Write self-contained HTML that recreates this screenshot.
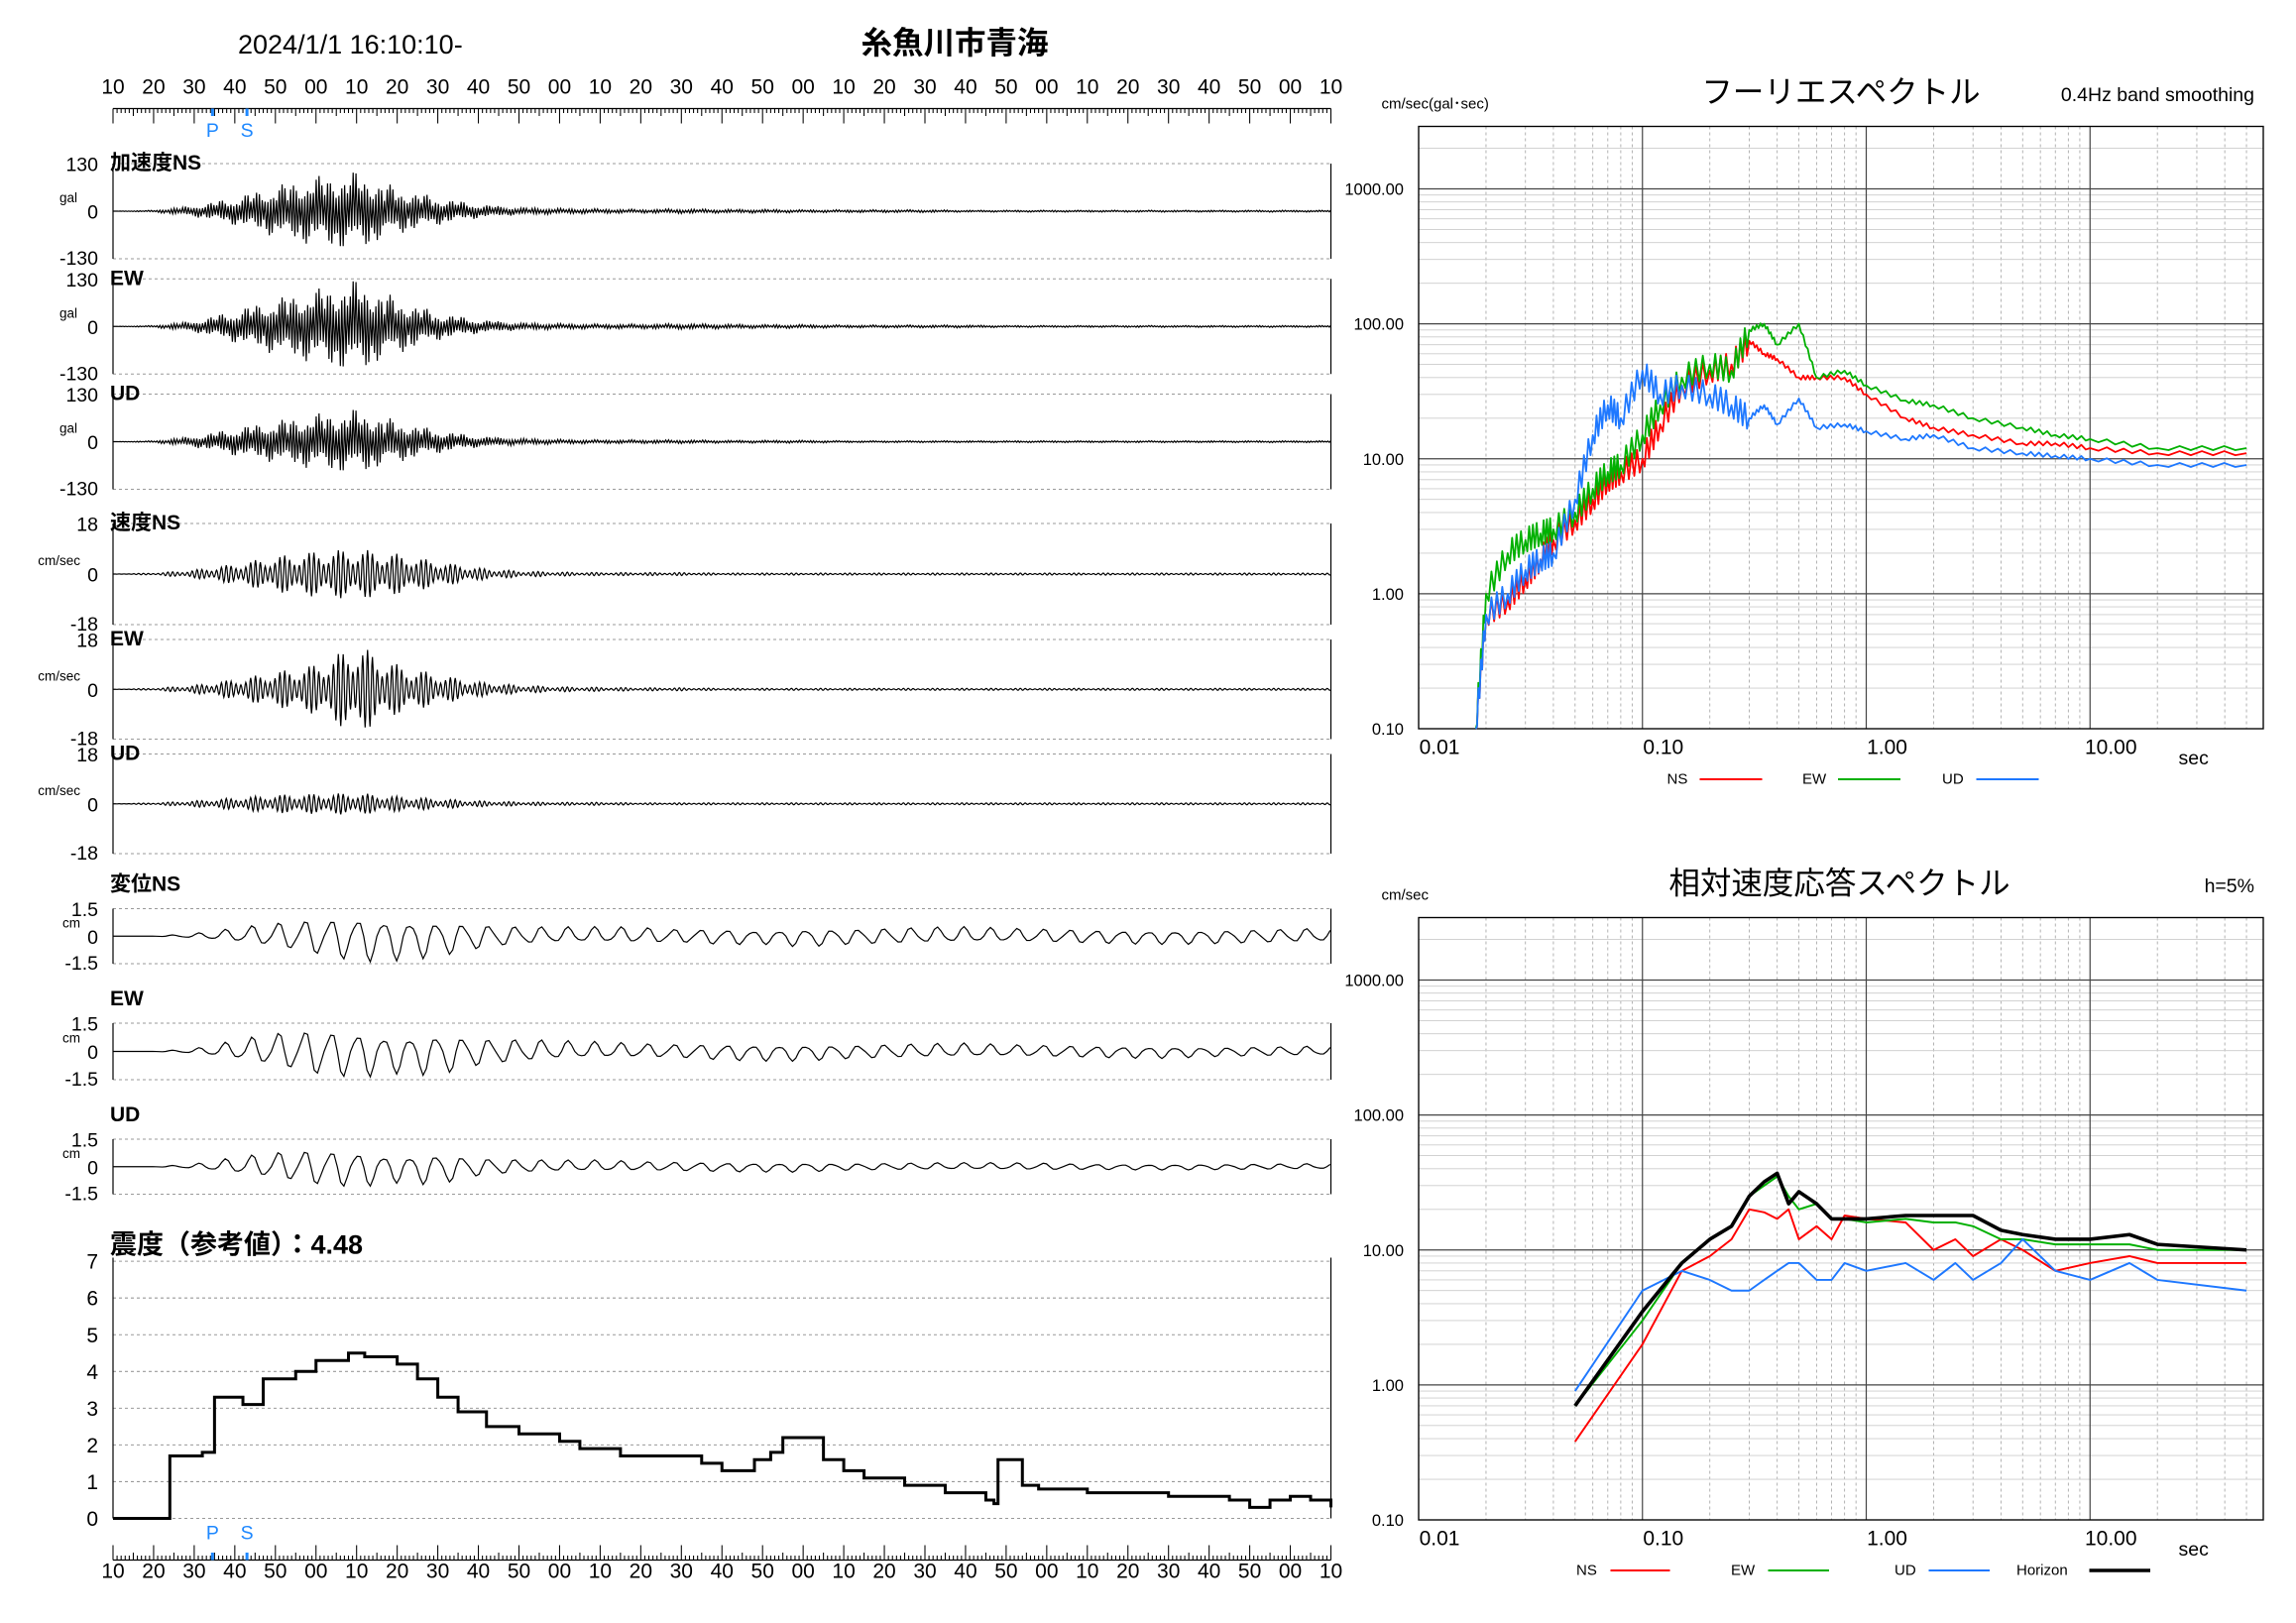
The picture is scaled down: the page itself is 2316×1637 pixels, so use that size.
<!DOCTYPE html>
<html><head><meta charset="utf-8"><style>
html,body{margin:0;padding:0;background:#fff;}
svg{display:block;font-family:"Liberation Sans","Noto Sans CJK JP",sans-serif;}
</style></head><body>
<svg id="chart" xmlns="http://www.w3.org/2000/svg" width="2316" height="1637" viewBox="0 0 1544 1091.33">
<rect x="0" y="0" width="1544" height="1092" fill="#fff"/>
</svg>
<script>
// ---------------- data ----------------
const timeLabels = ["10","20","30","40","50","00","10","20","30","40","50","00","10","20","30","40","50","00","10","20","30","40","50","00","10","20","30","40","50","00","10"];
const pTime = 24.5, sTime = 33;
const accNS = [0,0.02,0.12,0.3,0.55,0.75,0.85,0.5,0.3,0.15,0.08,0.06,0.05,0.04,0.05,0.04,0.04,0.03,0.03,0.03,0.03,0.02,0.02,0.02,0.02,0.02,0.02,0.02,0.02,0.02];
const accEW = [0,0.02,0.12,0.35,0.6,0.8,1.0,0.6,0.3,0.15,0.08,0.06,0.05,0.05,0.06,0.05,0.04,0.04,0.03,0.03,0.03,0.03,0.02,0.02,0.02,0.02,0.02,0.02,0.02,0.02];
const accUD = [0,0.02,0.12,0.3,0.45,0.6,0.7,0.45,0.25,0.12,0.07,0.05,0.04,0.04,0.04,0.03,0.03,0.03,0.02,0.02,0.02,0.02,0.02,0.02,0.02,0.02,0.02,0.02,0.02,0.02];
const velNS = [0,0.02,0.08,0.2,0.35,0.45,0.5,0.4,0.25,0.12,0.06,0.04,0.03,0.03,0.03,0.02,0.02,0.02,0.02,0.02,0.02,0.02,0.02,0.02,0.02,0.02,0.02,0.02,0.02,0.02];
const velEW = [0,0.02,0.08,0.2,0.35,0.5,0.9,0.5,0.3,0.15,0.08,0.05,0.04,0.03,0.03,0.02,0.02,0.02,0.02,0.02,0.02,0.02,0.02,0.02,0.02,0.02,0.02,0.02,0.02,0.02];
const velUD = [0,0.02,0.06,0.12,0.18,0.2,0.22,0.15,0.1,0.06,0.04,0.03,0.03,0.02,0.02,0.02,0.02,0.02,0.02,0.02,0.02,0.02,0.02,0.02,0.02,0.02,0.02,0.02,0.02,0.02];
const dispNS = [0,0,0.1,0.3,0.55,0.8,1.0,0.9,0.8,0.55,0.4,0.35,0.35,0.35,0.3,0.35,0.3,0.4,0.35,0.35,0.35,0.35,0.3,0.3,0.3,0.3,0.3,0.3,0.3,0.3];
const dispEW = [0,0,0.1,0.4,0.75,1.0,1.0,0.8,0.9,0.6,0.5,0.4,0.35,0.3,0.3,0.35,0.35,0.35,0.3,0.3,0.3,0.3,0.25,0.25,0.25,0.25,0.25,0.2,0.2,0.2];
const dispUD = [0,0,0.1,0.35,0.6,0.8,0.8,0.6,0.7,0.4,0.3,0.25,0.25,0.2,0.2,0.2,0.2,0.2,0.15,0.15,0.15,0.15,0.15,0.15,0.12,0.12,0.12,0.12,0.12,0.12];
const intT = [0,13.5,14,22,25,32,37,45,50,58,62,70,75,80,85,92,96,100,110,115,125,135,145,150,158,162,165,170,175,180,185,195,205,215,217,218,222,224,228,240,260,275,280,285,290,295,300];
const intV = [0,0,1.7,1.8,3.3,3.1,3.8,4.0,4.3,4.5,4.4,4.2,3.8,3.3,2.9,2.5,2.5,2.3,2.1,1.9,1.7,1.7,1.5,1.3,1.6,1.8,2.2,2.2,1.6,1.3,1.1,0.9,0.7,0.5,0.4,1.6,1.6,0.9,0.8,0.7,0.6,0.5,0.3,0.5,0.6,0.5,0.3];
const fsPeriod = [0.018,0.02,0.025,0.03,0.035,0.04,0.05,0.06,0.07,0.08,0.1,0.12,0.15,0.2,0.25,0.3,0.35,0.4,0.5,0.6,0.8,1,1.5,2,3,5,7,10,20,50];
const fsNS = [0.1,0.7,0.9,1.3,1.8,2.5,3.5,5,7,8,10,18,35,45,50,75,60,55,40,40,40,30,20,17,15,13,13,12,11,11];
const fsEW = [0.1,1,2,2.5,2.8,3,4,6,8,9,15,25,40,50,45,90,100,70,100,40,45,35,27,25,20,17,15,14,12,12];
const fsUD = [0.1,0.7,1,1.5,1.8,2,5,15,25,20,45,30,35,30,25,20,25,18,28,17,18,16,14,15,12,11,10.5,10,9,9];
const rsPeriod = [0.05,0.1,0.15,0.2,0.25,0.3,0.35,0.4,0.45,0.5,0.6,0.7,0.8,1,1.5,2,2.5,3,4,5,7,10,15,20,50];
const rsNS = [0.38,2,7,9,12,20,19,17,20,12,15,12,18,17,16,10,12,9,12,10,7,8,9,8,8];
const rsEW = [0.7,3,8,12,15,25,30,35,25,20,22,17,17,16,17,16,16,15,12,12,11,11,11,10,10];
const rsUD = [0.9,5,7,6,5,5,6,7,8,8,6,6,8,7,8,6,8,6,8,12,7,6,8,6,5];
const rsHZ = [0.7,3.5,8,12,15,25,32,37,22,27,22,17,17,17,18,18,18,18,14,13,12,12,13,11,10];
const decLabels = ["0.01","0.10","1.00","10.00"];
const yLabels = ["0.10","1.00","10.00","100.00","1000.00"];

// ---------------- helpers ----------------
const svg = document.getElementById('chart');
const SN = 'http://www.w3.org/2000/svg';
function mk(tag, attrs, parent){
  const e = document.createElementNS(SN, tag);
  for (const k in attrs) e.setAttribute(k, attrs[k]);
  (parent || svg).appendChild(e);
  return e;
}
function txt(x, y, s, size, anchor, fill, weight){
  const e = mk('text', {x:x, y:y, 'font-size':size, 'text-anchor':anchor||'start', fill:fill||'#000', 'font-weight':weight||'normal'});
  e.textContent = s;
  return e;
}
const X0 = 76, X1 = 895;
function tx(t){ return X0 + t * (X1 - X0) / 300; }

let e;
e = txt(160, 36, '2024/1/1 16:10:10-', 18);


e = txt(642, 36, '糸魚川市青海', 21, 'middle', '#000', 'bold');



function timeAxis(labelY, lineY, down, name){
  const g = mk('g', {});
  
  
  timeLabels.forEach((s, i) => {
    const t = txt(tx(i * 10), labelY, s, 14, 'middle', '#000', 'normal');
    g.appendChild(t);
    
    
  });
  const l = mk('line', {x1:X0, x2:X1, y1:lineY, y2:lineY, stroke:'#000', 'stroke-width':0.8}, g);
  
  
  let d = '';
  for (let s = 0; s <= 300; s++){
    const len = s % 10 === 0 ? 10 : (s % 5 === 0 ? 5 : 3);
    d += 'M' + tx(s) + ' ' + lineY + 'v' + (down ? len : -len);
  }
  const p = mk('path', {d:d, stroke:'#000', 'stroke-width':0.7, fill:'none'}, g);
  
  
}
timeAxis(63, 73, true, 'top-time-axis');
timeAxis(1061, 1049, false, 'bottom-time-axis');

function psMarks(y, ly){
  [[pTime, 'P'], [sTime, 'S']].forEach(([t, s]) => {
    const r = mk('rect', {x:tx(t) - 1, y:y, width:2, height:5, fill:'#1e88ff'});
    
    
    const tt = txt(tx(t), ly, s, 13, 'middle', '#1e88ff');
    
    
  });
}
psMarks(73, 92);
psMarks(1044, 1035);

const panels = [
  {top:110, bot:174, env:accNS, title:'加速度NS', max:'130', min:'-130', unit:'gal', per:0.35, name:'acc-ns'},
  {top:187.5, bot:251.5, env:accEW, title:'EW', max:'130', min:'-130', unit:'gal', per:0.35, name:'acc-ew'},
  {top:265, bot:329, env:accUD, title:'UD', max:'130', min:'-130', unit:'gal', per:0.35, name:'acc-ud'},
  {top:352, bot:420, env:velNS, title:'速度NS', max:'18', min:'-18', unit:'cm/sec', per:1.2, name:'vel-ns'},
  {top:430, bot:497, env:velEW, title:'EW', max:'18', min:'-18', unit:'cm/sec', per:1.2, name:'vel-ew'},
  {top:507, bot:574, env:velUD, title:'UD', max:'18', min:'-18', unit:'cm/sec', per:1.2, name:'vel-ud'},
  {top:611, bot:648, env:dispNS, title:'変位NS', max:'1.5', min:'-1.5', unit:'cm', per:6.5, name:'disp-ns', tOff:-16},
  {top:688, bot:726, env:dispEW, title:'EW', max:'1.5', min:'-1.5', unit:'cm', per:6.5, name:'disp-ew', tOff:-16},
  {top:766, bot:803, env:dispUD, title:'UD', max:'1.5', min:'-1.5', unit:'cm', per:6.5, name:'disp-ud', tOff:-16}
];
panels.forEach(P => {
  const g = mk('g', {});
  
  
  const mid = (P.top + P.bot) / 2, half = (P.bot - P.top) / 2;
  [P.top, P.bot].forEach(y => {
    const l = mk('line', {x1:X0, x2:X1, y1:y, y2:y, stroke:'#999', 'stroke-width':0.7, 'stroke-dasharray':'2,2'}, g);
    
    
  });
  const lv = mk('line', {x1:X0, x2:X0, y1:P.top, y2:P.bot, stroke:'#000', 'stroke-width':0.8}, g);
  
  
  const rv = mk('line', {x1:X1, x2:X1, y1:P.top, y2:P.bot, stroke:'#000', 'stroke-width':0.8}, g);
  
  
  const off = P.tOff || 0;
  let t;
  t = txt(66, P.top + 5, P.max, 13, 'end'); g.appendChild(t);
  
  
  t = txt(66, mid + 5, '0', 13, 'end'); g.appendChild(t);
  
  
  t = txt(66, P.bot + 4, P.min, 13, 'end'); g.appendChild(t);
  
  
  t = txt(P.unit === 'gal' ? 40 : 54, mid - 6, P.unit, 9, P.unit === 'gal' ? 'start' : 'end'); g.appendChild(t);
  
  
  t = txt(74, P.top + 4 + off, P.title, 14, 'start', '#000', 'bold'); g.appendChild(t);
  
  
  let d = 'M' + X0 + ' ' + mid;
  const step = P.per < 1 ? 0.35 : P.per / 8;
  for (let s = 0; s <= 300; s += step){
    const bi = Math.min(P.env.length - 1, Math.floor(s / 10));
    const b2 = Math.min(P.env.length - 1, bi + 1);
    const f = (s % 10) / 10;
    const a = P.env[bi] * (1 - f) + P.env[b2] * f;
    let v;
    if (P.per < 1){
      const k = Math.round(s / step);
      v = (k % 2 ? 1 : -1) * a * (0.35 + 0.65 * Math.abs(Math.sin(k * 1.7) * Math.cos(k * 0.37)));
    } else {
      v = a * Math.sin(2 * Math.PI * s / P.per) * (0.7 + 0.3 * Math.cos(s * 0.9));
    }
    d += 'L' + tx(s).toFixed(2) + ' ' + (mid - v * half).toFixed(2);
  }
  const w = mk('path', {d:d, stroke:'#000', 'stroke-width':0.8, fill:'none'}, g);
  
  
});

(function(){
  const g = mk('g', {});
  
  
  const Y0 = 1021, dy = 24.7;
  const iy = v => Y0 - v * dy;
  let t = txt(74, 843, '震度（参考値）：4.48', 18, 'start', '#000', 'bold'); g.appendChild(t);
  
  
  for (let v = 0; v <= 7; v++){
    const l = mk('line', {x1:X0, x2:X1, y1:iy(v), y2:iy(v), stroke:'#999', 'stroke-width':0.7, 'stroke-dasharray':'2,2'}, g);
    
    
    const tl = txt(66, iy(v) + 5, String(v), 14, 'end'); g.appendChild(tl);
    
    
  }
  const lv = mk('line', {x1:X0, x2:X0, y1:iy(7.1), y2:Y0, stroke:'#000', 'stroke-width':0.8}, g);
  
  
  const rv = mk('line', {x1:X1, x2:X1, y1:iy(7.1), y2:Y0, stroke:'#000', 'stroke-width':0.8}, g);
  
  
  let d = 'M' + tx(intT[0]).toFixed(2) + ' ' + iy(intV[0]).toFixed(2);
  for (let i = 1; i < intT.length; i++){
    d += 'H' + tx(intT[i]).toFixed(2) + 'V' + iy(intV[i]).toFixed(2);
  }
  const p = mk('path', {d:d, stroke:'#000', 'stroke-width':2, fill:'none', 'stroke-linejoin':'miter'}, g);
  
  
})();

function logChart(cfg){
  const g = mk('g', {});
  
  
  const L = 954, R = 1522, T = cfg.top, B = cfg.bot;
  const dec = 150.5, decY = (B - cfg.y1000) / 4;
  const px = p => L + (Math.log10(p) + 2) * dec;
  const py = v => B - (Math.log10(v) + 1) * decY;
  for (let e10 = -2; e10 <= 1; e10++){
    for (let m = 2; m <= 9; m++){
      const x = px(m * Math.pow(10, e10));
      if (x >= R) continue;
      const l = mk('line', {x1:x, x2:x, y1:T, y2:B, stroke:'#aaa', 'stroke-width':0.6, 'stroke-dasharray':'2,2'}, g);
      
      
    }
  }
  for (let e10 = -1; e10 <= 3; e10++){
    for (let m = 2; m <= 9; m++){
      const y = py(m * Math.pow(10, e10));
      if (y <= T) continue;
      const l = mk('line', {x1:L, x2:R, y1:y, y2:y, stroke:'#ccc', 'stroke-width':0.6}, g);
      
      
    }
  }
  [0.1, 1, 10].forEach(p => {
    const l = mk('line', {x1:px(p), x2:px(p), y1:T, y2:B, stroke:'#444', 'stroke-width':0.8}, g);
    
    
  });
  [1, 10, 100, 1000].forEach(v => {
    const l = mk('line', {x1:L, x2:R, y1:py(v), y2:py(v), stroke:'#444', 'stroke-width':0.8}, g);
    
    
  });
  const fr = mk('rect', {x:L, y:T, width:R - L, height:B - T, fill:'none', stroke:'#000', 'stroke-width':0.9}, g);
  
  
  yLabels.forEach((s, i) => {
    const t = txt(944, py(Math.pow(10, i - 1)) + 4, s, 11, 'end'); g.appendChild(t);
    
    
  });
  decLabels.forEach((s, i) => {
    const t = txt(px(Math.pow(10, i - 2)) + 14, B + 17, s, 14, 'middle'); g.appendChild(t);
    
    
  });
  let t = txt(1465, B + 24, 'sec', 13); g.appendChild(t);
  
  
  t = txt(929, T - 12, cfg.unit, 10); g.appendChild(t);
  
  
  t = txt(cfg.titleX, T - 16, cfg.title, 21, 'middle'); g.appendChild(t);
  
  
  t = txt(1516, T - 17, cfg.note, 13, 'end'); g.appendChild(t);
  
  
  cfg.series.forEach(S => {
    let d = '';
    const P = cfg.periods;
    for (let i = 0; i < P.length; i++){
      d += (i ? 'L' : 'M') + px(P[i]).toFixed(2) + ' ' + py(S.vals[i]).toFixed(2);
      if (cfg.jag && i < P.length - 1){
        const n = 8;
        for (let k = 1; k < n; k++){
          const lp = Math.log10(P[i]) + (Math.log10(P[i + 1]) - Math.log10(P[i])) * k / n;
          const lv = Math.log10(S.vals[i]) + (Math.log10(S.vals[i + 1]) - Math.log10(S.vals[i])) * k / n;
          const amp = P[i] < 0.3 ? 0.09 : 0.015;
          d += 'L' + px(Math.pow(10, lp)).toFixed(2) + ' ' + (py(Math.pow(10, lv)) + (k % 2 ? 1 : -1) * amp * decY).toFixed(2);
        }
      }
    }
    const p = mk('path', {d:d, stroke:S.color, 'stroke-width':S.w, fill:'none', 'stroke-linejoin':'round'}, g);
    
    
  });
  cfg.legend.forEach(Lg => {
    const tl = txt(Lg.tx, cfg.legY + 4, Lg.label, 10); g.appendChild(tl);
    
    
    const ll = mk('line', {x1:Lg.x1, x2:Lg.x2, y1:cfg.legY + 1, y2:cfg.legY + 1, stroke:Lg.color, 'stroke-width':Lg.w}, g);
    
    
  });
}
logChart({name:'fourier-spectrum-chart', top:85, bot:490, y1000:127, periods:fsPeriod, jag:true,
  title:'フーリエスペクトル', titleX:1238, note:'0.4Hz band smoothing', unit:'cm/sec(gal･sec)',
  series:[{name:'fourier-ns-line', vals:fsNS, color:'#ff0000', w:1.2},{name:'fourier-ew-line', vals:fsEW, color:'#00b000', w:1.2},{name:'fourier-ud-line', vals:fsUD, color:'#1e78ff', w:1.2}],
  legY:523, legend:[{label:'NS', tx:1121, x1:1143, x2:1185, color:'#ff0000', w:1.3},{label:'EW', tx:1212, x1:1236, x2:1278, color:'#00b000', w:1.3},{label:'UD', tx:1306, x1:1329, x2:1371, color:'#1e78ff', w:1.3}]});
logChart({name:'response-spectrum-chart', top:617, bot:1022, y1000:659, periods:rsPeriod, jag:false,
  title:'相対速度応答スペクトル', titleX:1237, note:'h=5%', unit:'cm/sec',
  series:[{name:'response-ns-line', vals:rsNS, color:'#ff0000', w:1.3},{name:'response-ew-line', vals:rsEW, color:'#00b000', w:1.3},{name:'response-ud-line', vals:rsUD, color:'#1e78ff', w:1.3},{name:'response-horizon-line', vals:rsHZ, color:'#000', w:2.4}],
  legY:1055, legend:[{label:'NS', tx:1060, x1:1083, x2:1123, color:'#ff0000', w:1.3},{label:'EW', tx:1164, x1:1189, x2:1230, color:'#00b000', w:1.3},{label:'UD', tx:1274, x1:1297, x2:1338, color:'#1e78ff', w:1.3},{label:'Horizon', tx:1356, x1:1405, x2:1446, color:'#000', w:2.4}]});
</script>
</body></html>
